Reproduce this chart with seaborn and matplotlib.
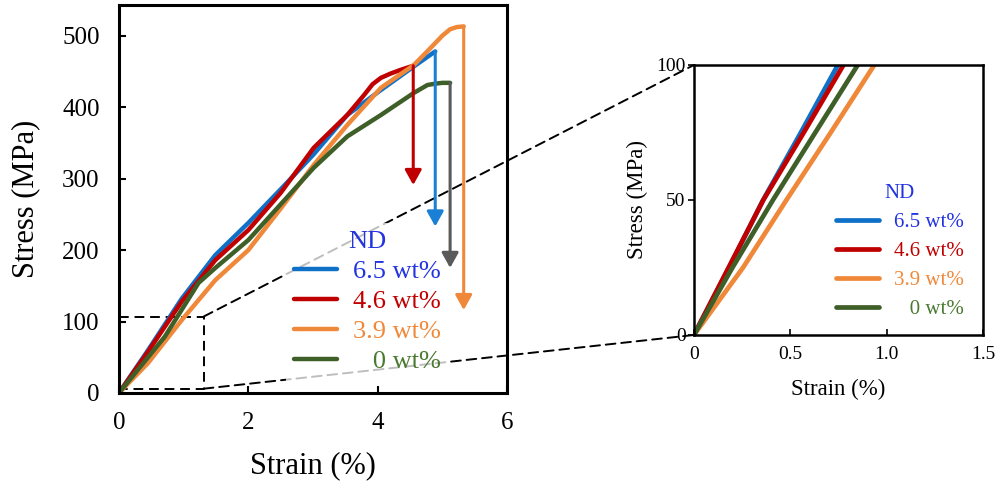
import numpy as np
import pandas as pd
import matplotlib
matplotlib.use('Agg')
import matplotlib.pyplot as plt
import seaborn as sns
from matplotlib.patches import ConnectionPatch

sns.set_theme(style='ticks')
plt.rcParams['font.family'] = ['Liberation Serif', 'DejaVu Serif']
plt.rcParams.update({'axes.edgecolor': 'black', 'xtick.color': 'black',
                     'ytick.color': 'black', 'text.color': 'black',
                     'axes.labelcolor': 'black'})

labels = ['6.5 wt%', '4.6 wt%', '3.9 wt%', '   0 wt%']
line_colors = ['#2a7bc6', '#c00000', '#f0883a', '#4e7a30']
legend_colors = ['#0f70c8', '#c00000', '#f0883a', '#3f5f28']
text_colors = ['#2233e0', '#c00000', '#f0883a', '#4a7a30']
arrow_colors = ['#1a80d6', '#c00000', '#f0883a', '#5a5a5a']
inset_colors = ['#4a7fd0', '#c00000', '#f0883a', '#5a9a3c']

# full tensile curves: strain (%), stress (MPa)
strain_65 = [0, 0.45, 0.97, 1.49, 2.0, 2.5, 3.0, 3.53, 4.05, 4.56, 4.89]
stress_65 = [0, 60, 132, 193, 238, 285, 333, 389, 424, 457, 478]
strain_46 = [0, 0.45, 0.97, 1.49, 2.0, 2.5, 3.01, 3.53, 3.79, 3.92, 4.05, 4.2, 4.35, 4.55]
stress_46 = [0, 58, 128, 186, 228, 280, 343, 389, 417, 432, 441, 447, 452, 458]
strain_39 = [0, 0.45, 0.97, 1.49, 2.0, 2.5, 3.01, 3.53, 4.05, 4.56, 4.82, 5.0, 5.12, 5.22, 5.33]
stress_39 = [0, 42, 102, 158, 200, 258, 319, 375, 427, 459, 483, 500, 509, 512, 513]
strain_0 = [0, 0.71, 1.23, 1.49, 2.0, 2.5, 3.01, 3.53, 4.05, 4.56, 4.77, 4.9, 5.0, 5.12]
stress_0 = [0, 79, 154, 175, 214, 264, 315, 359, 389, 420, 431, 433, 434, 434]
# stress where each fracture arrow ends
fracture_stress = [233, 291, 116, 175]

# initial linear region (inset)
inset_stress = [0, 25, 50, 75, 100]
inset_strain_65 = [0, 0.183, 0.359, 0.555, 0.747]
inset_strain_46 = [0, 0.180, 0.360, 0.570, 0.776]
inset_strain_39 = [0, 0.255, 0.480, 0.710, 0.936]
inset_strain_0 = [0, 0.200, 0.410, 0.630, 0.850]

# zoomed window drawn on the main plot
zoom_strain = 1.31
zoom_stress_low = 6
zoom_stress_high = 107

curves = [(strain_65, stress_65), (strain_46, stress_46),
          (strain_39, stress_39), (strain_0, stress_0)]
inset_curves = [inset_strain_65, inset_strain_46, inset_strain_39, inset_strain_0]


def main():
    fig = plt.figure(figsize=(10.05, 4.86), dpi=100)
    ax = fig.add_axes([0.1184, 0.1914, 0.3861, 0.7984])
    ax2 = fig.add_axes([0.6905, 0.3107, 0.2876, 0.5556])

    # main plot
    for (x, y), c, lab in zip(curves, line_colors, labels):
        df = pd.DataFrame({'strain': x, 'stress': y})
        sns.lineplot(data=df, x='strain', y='stress', ax=ax, color=c, lw=2.4,
                     estimator=None, sort=False, label=lab)
    for (x, y), c, end in zip(curves, arrow_colors, fracture_stress):
        ax.annotate('', xy=(x[-1], end), xytext=(x[-1], y[-1]), zorder=6,
                    arrowprops=dict(arrowstyle='-|>,head_length=0.45,head_width=0.25',
                                    color=c, lw=2.2, shrinkA=0, shrinkB=0,
                                    mutation_scale=20))

    ax.plot([0, zoom_strain, zoom_strain, 0],
            [zoom_stress_high, zoom_stress_high, zoom_stress_low, zoom_stress_low],
            color='black', ls=(0, (5, 3)), lw=1.4, zorder=1.5)

    ax.set_xlim(0, 6)
    ax.set_ylim(0, 543)
    ax.set_xticks([0, 2, 4, 6])
    ax.set_yticks([0, 100, 200, 300, 400, 500])
    ax.tick_params(direction='in', length=5, width=1.5, labelsize=18, pad=14)
    for s in ax.spines.values():
        s.set_linewidth(2.2)
        s.set_visible(True)
    ax.set_xlabel('Strain (%)', fontsize=22, labelpad=12)
    ax.set_ylabel('Stress (MPa)', fontsize=22, labelpad=16)

    handles, labs = ax.get_legend_handles_labels()
    for h, c in zip(handles, legend_colors):
        h.set_color(c)
        h.set_linewidth(3.2)
    leg = ax.legend(handles, labs, title='ND', loc='lower left',
                    bbox_to_anchor=(0.43, 0.03), borderaxespad=0,
                    fontsize=19, title_fontsize=19, labelcolor=text_colors,
                    handlelength=1.65, handletextpad=0.6, labelspacing=0.25,
                    borderpad=0.3, frameon=True, fancybox=False,
                    facecolor='white', edgecolor='none', framealpha=0.75)
    leg.get_title().set_color(text_colors[0])
    leg.set_zorder(5)

    # inset plot
    for xs, c, lab in zip(inset_curves, inset_colors, labels):
        df = pd.DataFrame({'strain': xs, 'stress': inset_stress})
        sns.lineplot(data=df, x='strain', y='stress', ax=ax2, color=c, lw=1.2,
                     estimator=None, sort=False, label=lab)
    ax2.set_xlim(0, 1.5)
    ax2.set_ylim(0, 100)
    ax2.set_xticks([0, 0.5, 1.0, 1.5])
    ax2.set_xticklabels(['0', '0.5', '1.0', '1.5'])
    ax2.set_yticks([0, 50, 100])
    ax2.tick_params(axis='x', direction='in', length=4, width=1.2, labelsize=14, pad=8)
    ax2.tick_params(axis='y', direction='out', length=4, width=1.2, labelsize=14, pad=2)
    for s in ax2.spines.values():
        s.set_linewidth(1.8)
        s.set_visible(True)
    ax2.set_xlabel('Strain (%)', fontsize=16.5, labelpad=11)
    ax2.set_ylabel('Stress (MPa)', fontsize=16.5, labelpad=6)

    handles2, labs2 = ax2.get_legend_handles_labels()
    for h, c in zip(handles2, legend_colors):
        h.set_color(c)
        h.set_linewidth(3.4)
    leg2 = ax2.legend(handles2, labs2, title='ND', loc='lower left',
                      bbox_to_anchor=(0.49, 0.06), borderaxespad=0,
                      fontsize=15, title_fontsize=15, labelcolor=text_colors,
                      handlelength=2.1, handletextpad=0.7, labelspacing=0.45,
                      borderpad=0, frameon=False)
    leg2.get_title().set_color(text_colors[0])

    # dashed connectors from zoom window to inset
    for ys, yb in [(zoom_stress_high, 1), (zoom_stress_low, 0)]:
        con = ConnectionPatch(xyA=(zoom_strain, ys), coordsA=ax.transData,
                              xyB=(0, yb), coordsB=ax2.transAxes,
                              color='black', ls=(0, (5, 3)), lw=1.4)
        con.set_zorder(1.5)
        ax.add_artist(con)

    fig.savefig('out.png', dpi=100)
    plt.close(fig)


if __name__ == "__main__":
    main()
